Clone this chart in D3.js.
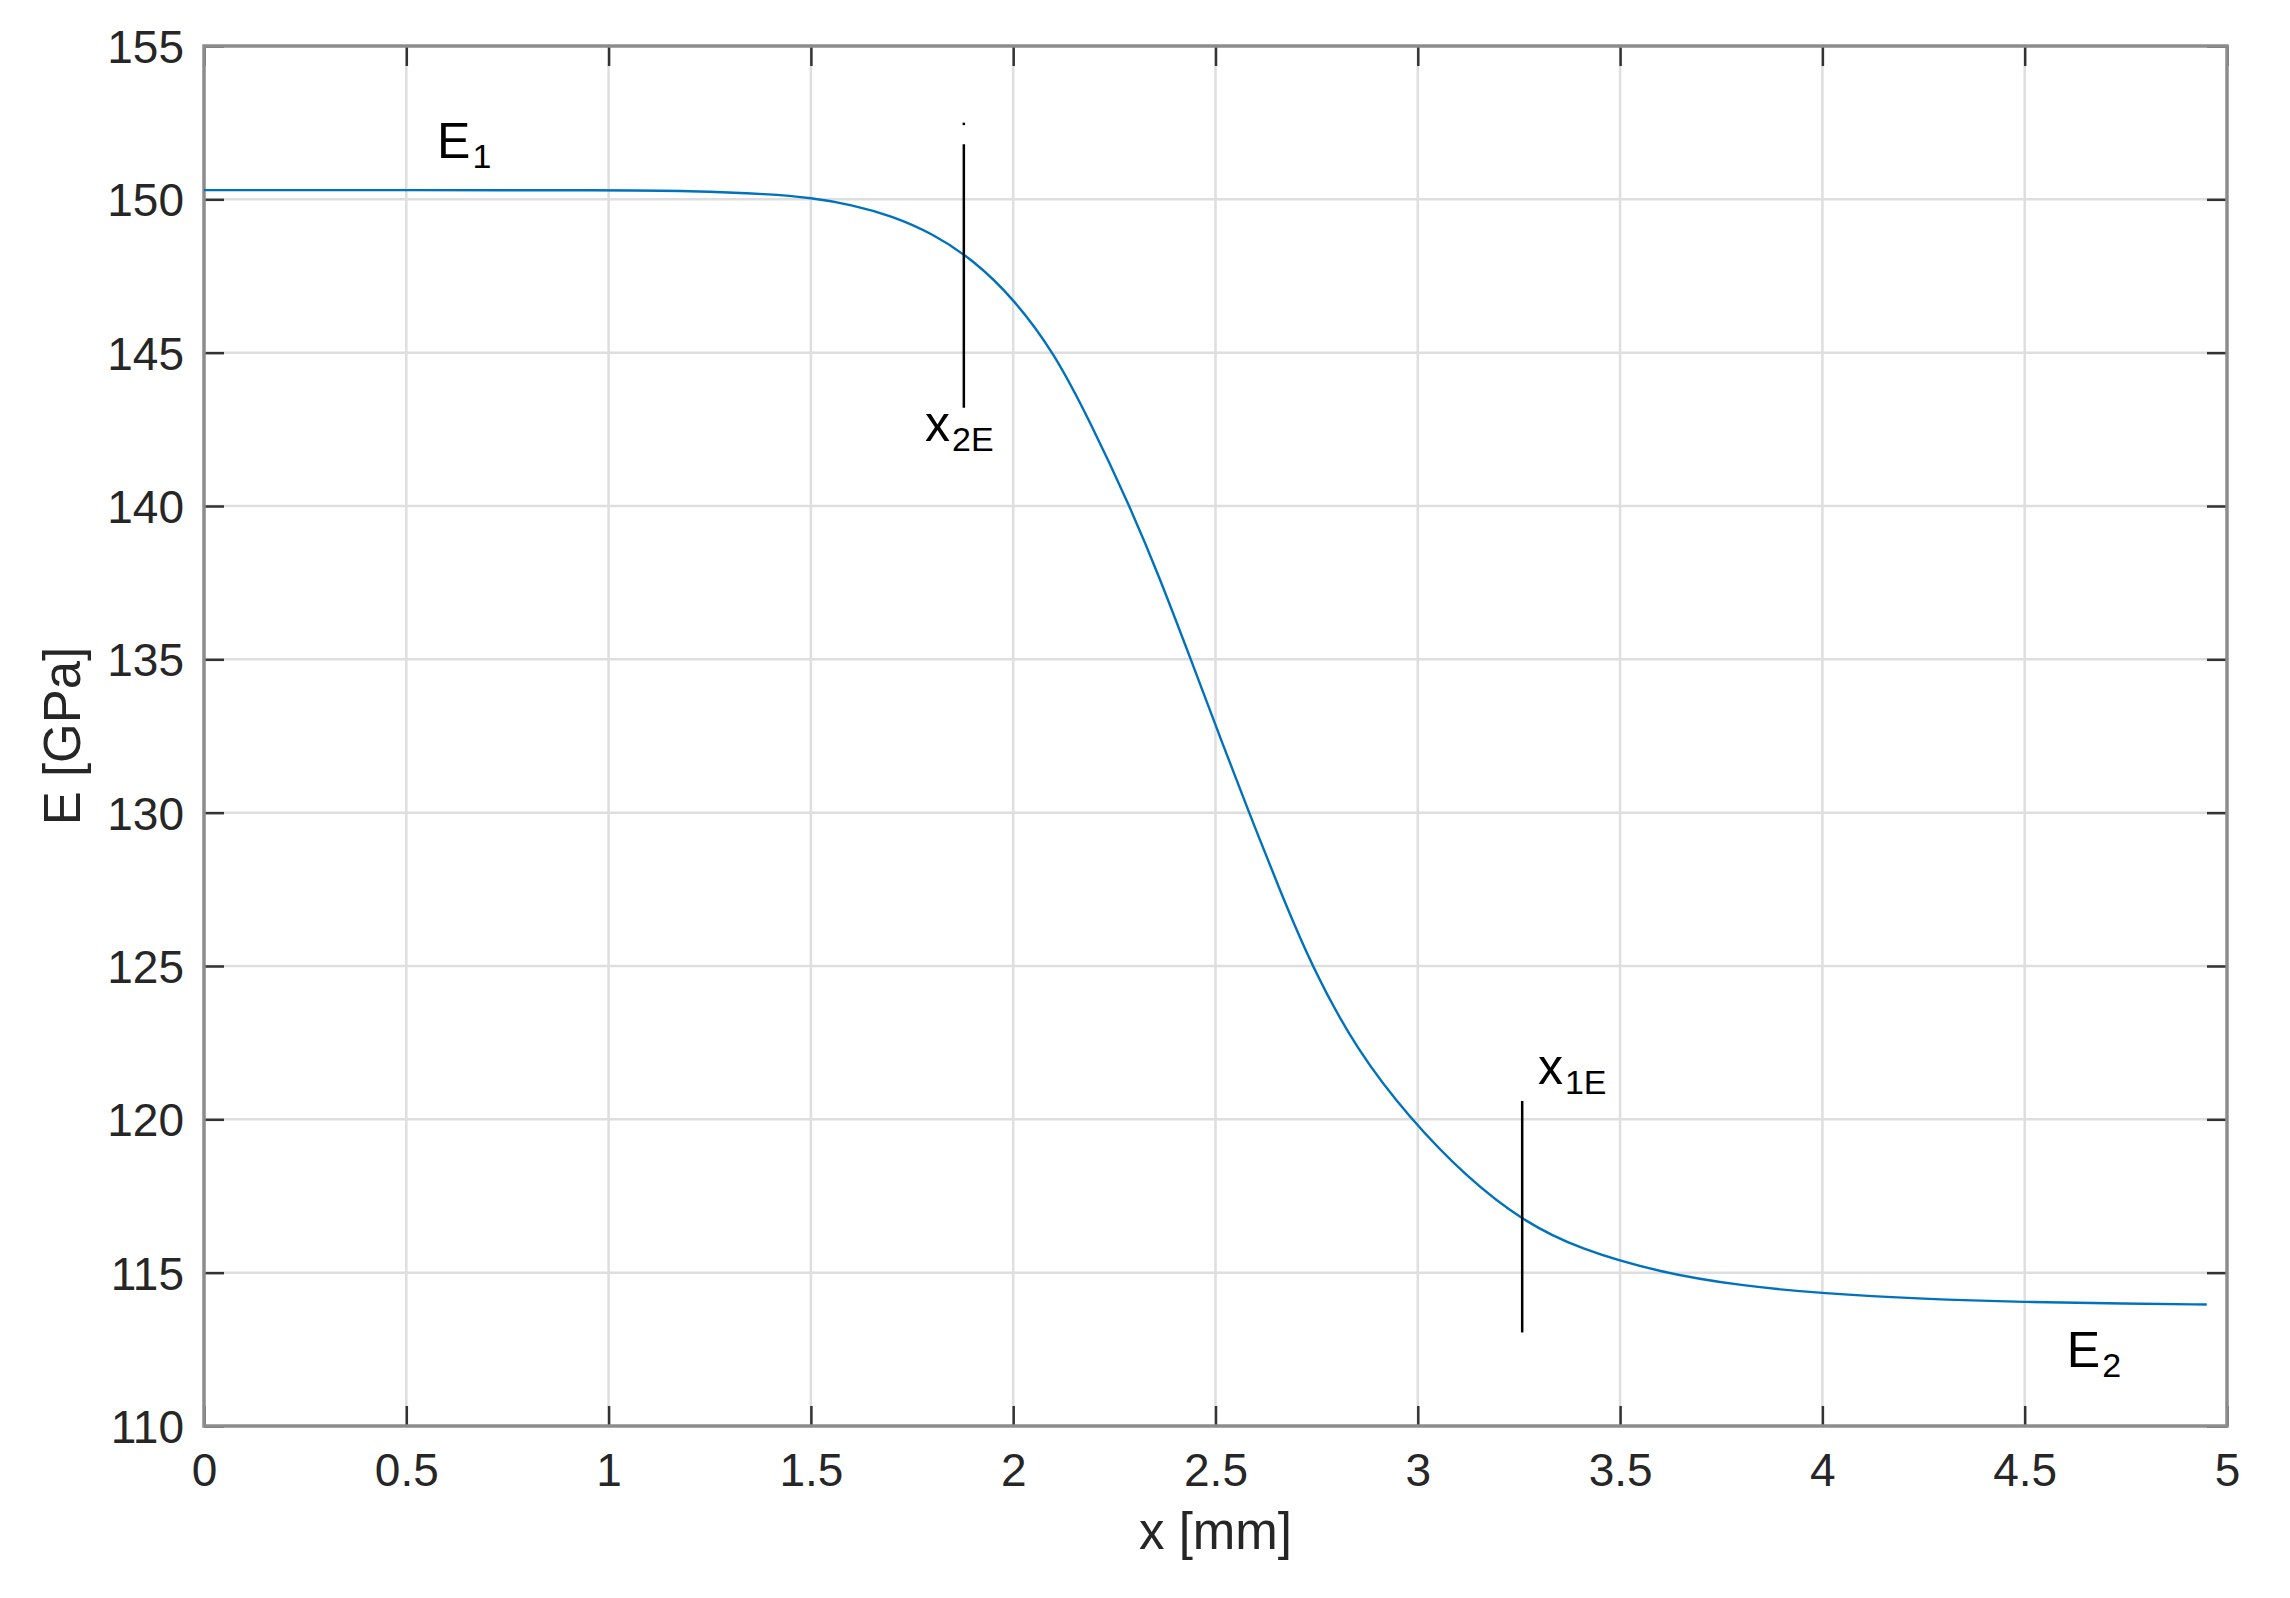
<!DOCTYPE html>
<html>
<head>
<meta charset="utf-8">
<script src="https://cdn.jsdelivr.net/npm/d3@7/dist/d3.min.js"></script>
<style>
  html, body { margin: 0; padding: 0; background: #fff; }
  svg { display: block; font-family: 'Liberation Sans', Arial, Helvetica, sans-serif; }
</style>
</head>
<body>
<svg></svg>
<script>
const WIDTH = 2290;
const HEIGHT = 1598;
const MARGIN = { top: 46, right: 63, bottom: 172, left: 204 };
const TICK_SIZE = 20;
const TICK_FONT = 46;
const LABEL_FONT = 51;
const NOTE_FONT = 50;
const SUB_FONT = 34;

// ---------- data ----------

const xValues = [0, 0.5, 1.0, 1.2, 1.4, 1.5, 1.6, 1.7, 1.8, 1.9, 2.0, 2.1, 2.19, 2.288, 2.36, 2.439, 2.51, 2.583, 2.655, 2.737, 2.85, 2.982, 3.12, 3.258, 3.4, 3.6, 3.8, 4.0, 4.25, 4.5, 4.75, 4.95];
const eValues = [150.3, 150.3, 150.3, 150.28, 150.17, 150.05, 149.83, 149.46, 148.89, 148.04, 146.78, 145.03, 142.75, 140.0, 137.73, 135.0, 132.5, 130.0, 127.6, 125.0, 122.23, 120.0, 118.12, 116.69, 115.76, 115.0, 114.57, 114.32, 114.14, 114.04, 113.99, 113.96];

const xTicks = [0, 0.5, 1, 1.5, 2, 2.5, 3, 3.5, 4, 4.5, 5];
const yTicks = [110, 115, 120, 125, 130, 135, 140, 145, 150, 155];

// marker lines: x position and E range
const markerX = [1.878, 3.258];
const markerTop = [151.8, 120.6];
const markerBottom = [143.2, 113.05];

// labels: main letter, subscript, anchor in data units
const noteMain = ['E', 'E', 'x', 'x'];
const noteSub = ['1', '2', '2E', '1E'];
const noteX = [0.576, 4.604, 1.782, 3.297];
const noteY = [151.35, 111.93, 142.13, 121.16];

const program = () => {
  const svg = d3.select('svg').attr('width', WIDTH).attr('height', HEIGHT);
  const innerW = WIDTH - MARGIN.left - MARGIN.right;
  const innerH = HEIGHT - MARGIN.top - MARGIN.bottom;

  const x = d3.scaleLinear().domain([0, 5]).range([MARGIN.left, MARGIN.left + innerW]);
  const y = d3.scaleLinear().domain([110, 155]).range([MARGIN.top + innerH, MARGIN.top]);

  svg.append('rect').attr('width', WIDTH).attr('height', HEIGHT).attr('fill', '#fff');

  // ---------- grid ----------

  const grid = svg.append('g').attr('stroke', '#dedede').attr('stroke-width', 2.5);
  grid.selectAll('line.gx').data(xTicks.slice(1, -1)).join('line')
    .attr('x1', (d) => x(d)).attr('x2', (d) => x(d))
    .attr('y1', y(110)).attr('y2', y(155));
  grid.selectAll('line.gy').data(yTicks.slice(1, -1)).join('line')
    .attr('class', 'gy')
    .attr('x1', x(0)).attr('x2', x(5))
    .attr('y1', (d) => y(d)).attr('y2', (d) => y(d));

  // ---------- axes ----------

  const styleAxis = (g) => {
    g.select('.domain').remove();
    g.selectAll('.tick line').attr('stroke', '#333').attr('stroke-width', 2.5);
    g.selectAll('.tick text')
      .attr('fill', '#262626')
      .attr('font-size', TICK_FONT)
      .attr('font-family', "'Liberation Sans', Arial, sans-serif");
  };

  svg.append('g')
    .attr('transform', `translate(0,${y(110)})`)
    .call(d3.axisBottom(x).tickValues(xTicks).tickFormat(d3.format('')).tickSize(-TICK_SIZE).tickPadding(27))
    .call(styleAxis)
    .selectAll('.tick text').attr('dy', '0.71em');

  svg.append('g')
    .attr('transform', `translate(0,${y(155)})`)
    .call(d3.axisTop(x).tickValues(xTicks).tickFormat('').tickSize(-TICK_SIZE))
    .call(styleAxis);

  svg.append('g')
    .attr('transform', `translate(${x(0)},0)`)
    .call(d3.axisLeft(y).tickValues(yTicks).tickSize(-TICK_SIZE).tickPadding(20))
    .call(styleAxis)
    .selectAll('.tick text').attr('dy', '0.36em');

  svg.append('g')
    .attr('transform', `translate(${x(5)},0)`)
    .call(d3.axisRight(y).tickValues(yTicks).tickFormat('').tickSize(-TICK_SIZE))
    .call(styleAxis);

  // box
  svg.append('rect')
    .attr('x', x(0)).attr('y', y(155))
    .attr('width', x(5) - x(0)).attr('height', y(110) - y(155))
    .attr('fill', 'none').attr('stroke', '#8c8c8c').attr('stroke-width', 3.5);

  // ---------- curve ----------

  const points = xValues.map((v, i) => [v, eValues[i]]);
  const line = d3.line()
    .x((d) => x(d[0]))
    .y((d) => y(d[1]))
    .curve(d3.curveBasis);

  svg.append('path')
    .datum(points)
    .attr('d', line)
    .attr('fill', 'none')
    .attr('stroke', '#0072BD')
    .attr('stroke-width', 2.4);

  // ---------- markers ----------

  svg.append('g').selectAll('line').data(markerX).join('line')
    .attr('x1', (d) => x(d)).attr('x2', (d) => x(d))
    .attr('y1', (d, i) => y(markerTop[i]))
    .attr('y2', (d, i) => y(markerBottom[i]))
    .attr('stroke', '#000').attr('stroke-width', 2.5);

  // tiny stray tick above the x2E marker
  svg.append('line')
    .attr('x1', x(markerX[0])).attr('x2', x(markerX[0]))
    .attr('y1', y(152.5)).attr('y2', y(152.42))
    .attr('stroke', '#000').attr('stroke-width', 2.5);

  // ---------- notes ----------

  const notes = svg.append('g').selectAll('text').data(noteMain).join('text')
    .attr('x', (d, i) => x(noteX[i]))
    .attr('y', (d, i) => y(noteY[i]))
    .attr('fill', '#000')
    .attr('font-size', NOTE_FONT);
  notes.append('tspan').text((d) => d);
  notes.append('tspan')
    .attr('font-size', SUB_FONT)
    .attr('dx', 2)
    .attr('dy', 10)
    .text((d, i) => noteSub[i]);

  // ---------- axis labels ----------

  svg.append('text')
    .attr('x', x(2.5)).attr('y', 1549)
    .attr('text-anchor', 'middle')
    .attr('fill', '#262626')
    .attr('font-size', LABEL_FONT)
    .text('x [mm]');

  svg.append('text')
    .attr('transform', `translate(80,${(y(110) + y(155)) / 2}) rotate(-90)`)
    .attr('text-anchor', 'middle')
    .attr('fill', '#262626')
    .attr('font-size', LABEL_FONT)
    .text('E [GPa]');
};

program();
</script>
</body>
</html>
